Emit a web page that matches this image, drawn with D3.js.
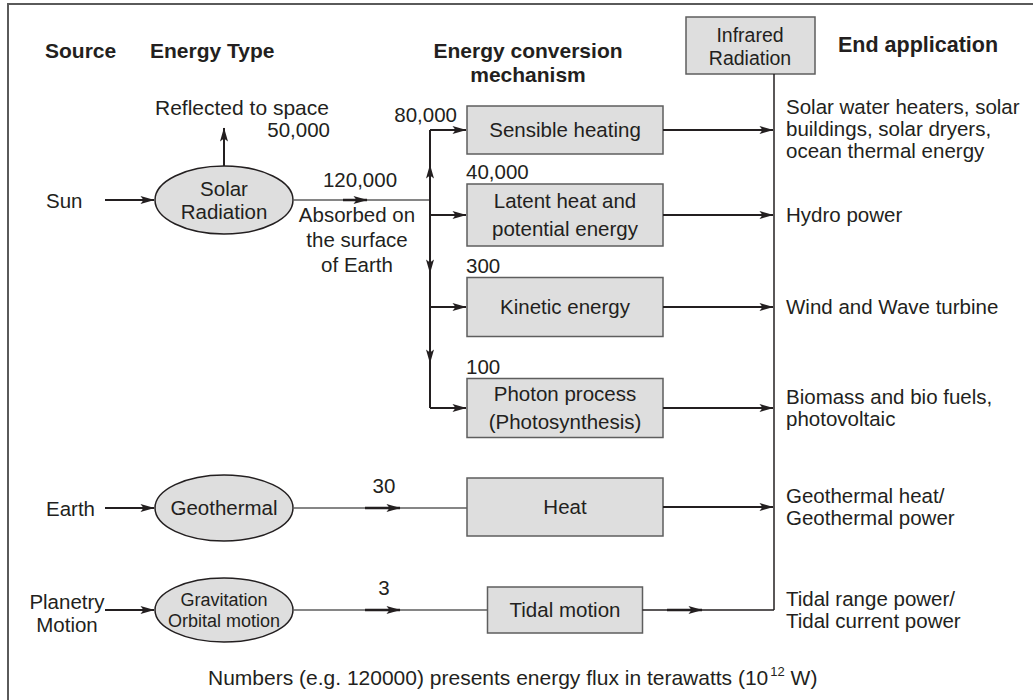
<!DOCTYPE html>
<html>
<head>
<meta charset="utf-8">
<script src="https://cdn.jsdelivr.net/npm/d3@7"></script>
<style>
  body { margin: 0; background: #fff; }
  svg { display: block; }
  text { font-family: "Liberation Sans", Arial, sans-serif; fill: #231f20; }
</style>
</head>
<body>
<div id="chart"></div>
<script>
// diagram content
const headers = ["Source", "Energy Type", "Energy conversion\nmechanism", "End application"];
const sources = ["Sun", "Earth", "Planetry\nMotion"];
const energyTypes = ["Solar\nRadiation", "Geothermal", "Gravitation\nOrbital motion"];
const mechanisms = ["Sensible heating", "Latent heat and\npotential energy", "Kinetic energy",
                    "Photon process\n(Photosynthesis)", "Heat", "Tidal motion"];
const fluxes = ["80,000", "40,000", "300", "100", "30", "3"];
const applications = ["Solar water heaters, solar\nbuildings, solar dryers,\nocean thermal energy",
                      "Hydro power", "Wind and Wave turbine",
                      "Biomass and bio fuels,\nphotovoltaic",
                      "Geothermal heat/\nGeothermal power",
                      "Tidal range power/\nTidal current power"];
const reflected = ["Reflected to space", "50,000"];
const absorbed = ["120,000", "Absorbed on\nthe surface\nof Earth"];
const sink = "Infrared\nRadiation";
const footnote = ["Numbers (e.g. 120000) presents energy flux in terawatts (10", "12", " W)"];

const W = 1033, H = 700;
const svg = d3.select("#chart").append("svg").attr("width", W).attr("height", H);

// layout scales
const col = d3.scaleOrdinal(["source", "type", "absorb", "branch", "mech", "sink", "app"],
                            [46, 224, 357, 430, 565, 774, 786]);
const rowY = d3.scaleOrdinal(mechanisms, [130, 215, 307, 408, 507, 610]);
const srcY = d3.scaleOrdinal(energyTypes, [200, 508, 610]);
const boxW = d3.scaleOrdinal(mechanisms, [196, 196, 196, 196, 196, 155]);
const boxH = d3.scaleOrdinal(mechanisms, [48, 62, 59, 59, 58, 46]);

const dark = "#231f20", grey = "#5e5e5e";

// arrow head
svg.append("defs").append("marker")
  .attr("id", "head").attr("markerUnits", "userSpaceOnUse")
  .attr("viewBox", "-15 -5 16 10").attr("markerWidth", 16).attr("markerHeight", 10)
  .attr("refX", 0).attr("refY", 0).attr("orient", "auto")
  .append("path").attr("d", "M0.5,0 L-13.5,-4 L-10.5,0 L-13.5,4 Z").attr("fill", dark);

function lines(sel, str, x, y, dy, anchor) {
  const t = sel.append("text").attr("x", x).attr("y", y).attr("text-anchor", anchor || "start");
  str.split("\n").forEach((s, i) => t.append("tspan").attr("x", x).attr("dy", i ? dy : 0).text(s));
  return t;
}
function line(x1, y1, x2, y2, w, c, arrow) {
  const l = svg.append("line").attr("x1", x1).attr("y1", y1).attr("x2", x2).attr("y2", y2)
    .attr("stroke", c || dark).attr("stroke-width", w || 2);
  if (arrow) l.attr("marker-end", "url(#head)");
  return l;
}

// frame
svg.append("path").attr("d", `M8,${H} V4 H${W}`).attr("fill", "none")
  .attr("stroke", "#5a5a5a").attr("stroke-width", 2);

// headers
const hd = svg.append("g").style("font-weight", "bold").style("font-size", "21px");
lines(hd, headers[0], 45, 58, 0);
lines(hd, headers[1], 150, 58, 0);
lines(hd, headers[2], 528, 58, 24, "middle");
lines(hd, headers[3], 838, 52, 0).style("font-size", "21.5px");

const g = svg.append("g").style("font-size", "20.5px");

// infrared sink box and collector line
const sx = col("sink");
g.append("rect").attr("x", 686).attr("y", 17).attr("width", 129).attr("height", 57)
  .attr("fill", "#dedede").attr("stroke", grey).attr("stroke-width", 1.5);
lines(g, sink, 750, 42, 23, "middle").style("font-size", "19.5px");
line(sx, 74, sx, rowY(mechanisms[5]), 1.5, dark);

// sources and energy-type ellipses
const ry = [34, 33, 32];
energyTypes.forEach((e, i) => {
  const y = srcY(e), cx = col("type");
  const src = sources[i].split("\n");
  if (src.length === 1) lines(g, sources[i], 46, y + 8, 0);
  else lines(g, sources[i], 67, y - 1, 23, "middle");
  line(105, y, 154, y, 2, dark, true);
  g.append("ellipse").attr("cx", cx).attr("cy", y).attr("rx", 69).attr("ry", ry[i])
    .attr("fill", "#dedede").attr("stroke", dark).attr("stroke-width", 1.5);
  const small = i === 2;
  const n = e.split("\n").length;
  const fs = small ? 18 : 20.5, dy = small ? 21 : 23;
  lines(g, e, cx, y + fs * 0.36 - (n - 1) * dy / 2, dy, "middle").style("font-size", fs + "px");
});

// solar: reflected and absorbed
const solarY = srcY(energyTypes[0]);
line(col("type"), solarY - 34, col("type"), 128, 2, dark, true);
lines(g, reflected[0], 155, 115, 0).style("font-size", "21px");
lines(g, reflected[1], 330, 137, 0, "end");
line(293, solarY, col("branch"), solarY, 1.5, grey);
line(343, solarY, 367, solarY, 2.5, dark, true);
lines(g, absorbed[0], 360, 187, 0, "middle");
lines(g, absorbed[1], col("absorb"), 222, 25, "middle");

// branch line feeding the solar mechanisms
const bx = col("branch");
line(bx, rowY(mechanisms[0]), bx, rowY(mechanisms[3]), 2, dark);
line(bx, 180, bx, 165, 2, dark, true);
line(bx, 258, bx, 273, 2, dark, true);
line(bx, 348, bx, 363, 2, dark, true);

// mechanism boxes
mechanisms.forEach((m, i) => {
  const y = rowY(m), w = boxW(m), h = boxH(m), x0 = col("mech") - w / 2;
  if (i < 4) line(bx, y, x0 - 1, y, 2, dark, true);
  g.append("rect").attr("x", x0).attr("y", y - h / 2).attr("width", w).attr("height", h)
    .attr("fill", "#dedede").attr("stroke", grey).attr("stroke-width", 1.5);
  const n = m.split("\n").length;
  lines(g, m, col("mech"), y + 7 - (n - 1) * 14, 28, "middle");
  // flux labels
  if (i === 0) lines(g, fluxes[i], 457, 122, 0, "end");
  else if (i < 4) lines(g, fluxes[i], 466, y - h / 2 - 5, 0);
  // out to collector
  if (i < 5) line(x0 + w, y, sx - 1, y, 2, dark, true);
  else {
    line(x0 + w, y, sx, y, 1.5, dark);
    line(667, y, 702, y, 2.5, dark, true);
  }
  // end applications
  const an = applications[i].split("\n").length;
  lines(g, applications[i], col("app"), y + 7 - (an - 1) * 11.5, 22);
});

// geothermal and tidal feed lines
[[energyTypes[1], mechanisms[4], fluxes[4]], [energyTypes[2], mechanisms[5], fluxes[5]]].forEach(([e, m, f]) => {
  const y = srcY(e), x1 = col("mech") - boxW(m) / 2;
  line(293, y, x1, y, 1.5, grey);
  line(365, y, 400, y, 2.5, dark, true);
  lines(g, f, 384, y - 15, 0, "middle");
});

// footnote
const fn = g.append("text").attr("x", 208).attr("y", 685).style("font-size", "21px");
fn.append("tspan").text(footnote[0]);
fn.append("tspan").attr("dx", 2).attr("dy", -9).style("font-size", "13px").text(footnote[1]);
fn.append("tspan").attr("dy", 9).text(footnote[2]);
</script>
</body>
</html>
